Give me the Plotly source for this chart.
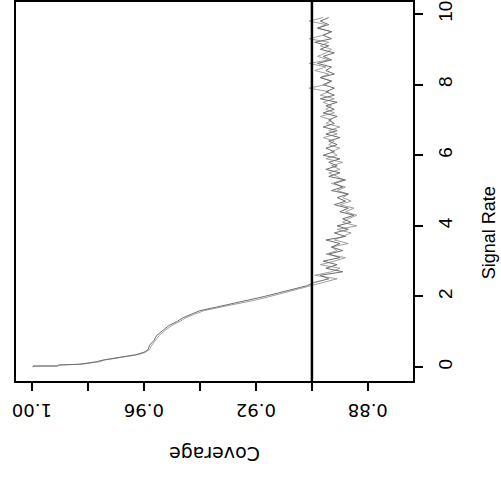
import plotly.graph_objects as go

# Smooth part (signal rate vs coverage)
sr_smooth = [0.00, 0.03, 0.03, 0.06, 0.08, 0.11, 0.15, 0.20, 0.28, 0.35, 0.42, 0.50,
             0.62, 0.75, 0.90, 1.05, 1.18, 1.30, 1.40, 1.50, 1.60, 1.70, 1.80, 1.90,
             2.00, 2.10, 2.20, 2.30]
cov_smooth_a = [0.9996, 0.9996, 0.9910, 0.9905, 0.9830, 0.9800, 0.9770, 0.9746, 0.9675,
                0.9630, 0.9600, 0.9585, 0.9580, 0.9565, 0.9554, 0.9530, 0.9510, 0.9480,
                0.9460, 0.9430, 0.9400, 0.9340, 0.9280, 0.9220, 0.9170, 0.9120, 0.9070,
                0.9020]
cov_smooth_b = [0.9996, 0.9994, 0.9905, 0.9900, 0.9825, 0.9790, 0.9760, 0.9740, 0.9668,
                0.9622, 0.9594, 0.9580, 0.9572, 0.9558, 0.9545, 0.9522, 0.9500, 0.9470,
                0.9450, 0.9418, 0.9385, 0.9325, 0.9262, 0.9200, 0.9150, 0.9100, 0.9050,
                0.9005]

# Noisy part
sr_noise = [2.4, 2.5, 2.6, 2.7, 2.8, 2.9, 3.0, 3.1, 3.2, 3.3, 3.4, 3.5, 3.6, 3.7, 3.8, 3.9,
            4.0, 4.1, 4.2, 4.3, 4.4, 4.5, 4.6, 4.7, 4.8, 4.9, 5.0, 5.1, 5.2, 5.3, 5.4, 5.5,
            5.6, 5.7, 5.8, 5.9, 6.0, 6.1, 6.2, 6.3, 6.4, 6.5, 6.6, 6.7, 6.8, 6.9, 7.0, 7.1,
            7.2, 7.3, 7.4, 7.5, 7.6, 7.7, 7.8, 7.9, 8.0, 8.1, 8.2, 8.3, 8.4, 8.5, 8.6, 8.7,
            8.8, 8.9, 9.0, 9.1, 9.2, 9.3, 9.4, 9.5, 9.6, 9.7, 9.8, 9.9]
cov_noise_a = [0.899, 0.894, 0.897, 0.889, 0.895, 0.891, 0.896, 0.890, 0.894, 0.889, 0.893,
               0.890, 0.895, 0.888, 0.892, 0.887, 0.891, 0.886, 0.889, 0.885, 0.890, 0.887,
               0.892, 0.888, 0.891, 0.887, 0.893, 0.889, 0.892, 0.888, 0.894, 0.890, 0.895,
               0.891, 0.894, 0.890, 0.896, 0.892, 0.895, 0.891, 0.894, 0.890, 0.895, 0.891,
               0.896, 0.892, 0.894, 0.891, 0.896, 0.892, 0.895, 0.891, 0.897, 0.892, 0.895,
               0.892, 0.896, 0.893, 0.897, 0.892, 0.895, 0.893, 0.898, 0.893, 0.896, 0.892,
               0.897, 0.894, 0.899, 0.893, 0.896, 0.893, 0.898, 0.894, 0.897, 0.894]
cov_noise_b = [0.896, 0.891, 0.899, 0.893, 0.890, 0.897, 0.892, 0.888, 0.895, 0.891, 0.893,
               0.887, 0.892, 0.889, 0.886, 0.891, 0.884, 0.889, 0.887, 0.884, 0.888, 0.885,
               0.890, 0.886, 0.889, 0.887, 0.891, 0.888, 0.893, 0.889, 0.891, 0.894, 0.890,
               0.893, 0.889, 0.895, 0.891, 0.893, 0.890, 0.894, 0.892, 0.896, 0.891, 0.894,
               0.890, 0.895, 0.893, 0.897, 0.892, 0.895, 0.893, 0.896, 0.892, 0.897, 0.894,
               0.901, 0.895, 0.893, 0.897, 0.894, 0.899, 0.895, 0.901, 0.894, 0.898, 0.895,
               0.893, 0.897, 0.894, 0.901, 0.896, 0.893, 0.898, 0.895, 0.901, 0.896]

threshold = 0.90
x_ticks = [1.00, 0.98, 0.96, 0.94, 0.92, 0.90, 0.88]
x_ticktext = ["1.00", "", "0.96", "", "0.92", "", "0.88"]
y_ticks = [0, 2, 4, 6, 8, 10]

fig = go.Figure()
fig.add_trace(go.Scatter(x=cov_smooth_b + cov_noise_b, y=sr_smooth + sr_noise,
                         mode="lines", line=dict(color="#a0a0a0", width=1)))
fig.add_trace(go.Scatter(x=cov_smooth_a + cov_noise_a, y=sr_smooth + sr_noise,
                         mode="lines", line=dict(color="#6e6e6e", width=1)))

fig.add_shape(type="line", xref="x", yref="paper", x0=threshold, x1=threshold, y0=0, y1=1,
              line=dict(color="black", width=2.5))

vfont = dict(family="Liberation Sans, Arial, sans-serif", size=18, color="black")
hfont = dict(family="DejaVu Sans, sans-serif", size=18, color="black")
fig.update_layout(
    width=501, height=478,
    margin=dict(l=16, r=88, t=0, b=97),
    paper_bgcolor="white", plot_bgcolor="white",
    showlegend=False, font=vfont,
    xaxis=dict(range=[1.0057, 0.8639], tickvals=x_ticks, showticklabels=False,
               ticks="outside", ticklen=8, tickwidth=2, tickcolor="black",
               showline=True, linecolor="black", linewidth=2, mirror=True,
               showgrid=False, zeroline=False),
    yaxis=dict(range=[-0.394, 10.34], tickvals=y_ticks, side="right", tickangle=-90,
               ticks="outside", ticklen=8, tickwidth=2, tickcolor="black",
               showline=True, linecolor="black", linewidth=2, mirror=True,
               showgrid=False, zeroline=False, ticklabelstandoff=6,
               tickfont=dict(family="Liberation Sans, Arial, sans-serif", size=19)),
)
for tv, tt in zip(x_ticks, x_ticktext):
    if tt:
        fig.add_annotation(text=tt, xref="x", x=tv, yref="paper", y=-0.076,
                           xanchor="center", yanchor="middle", textangle=180,
                           showarrow=False, font=hfont)
fig.add_annotation(text="Coverage", xref="paper", yref="paper", x=0.5, y=-0.192,
                   xanchor="center", yanchor="middle", textangle=180, showarrow=False,
                   font=dict(family="DejaVu Sans, sans-serif", size=19, color="black"))
fig.add_annotation(text="Signal Rate", xref="paper", x=1.19, yref="y", y=3.8,
                   xanchor="center", yanchor="middle", textangle=-90, showarrow=False,
                   font=vfont)

fig.write_html("out.html")
